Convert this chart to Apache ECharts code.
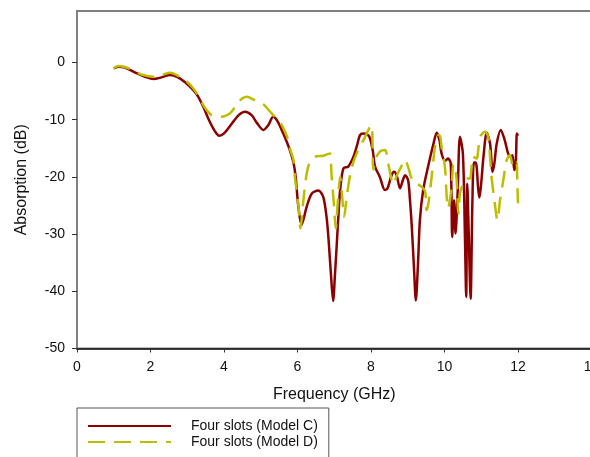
<!DOCTYPE html>
<html>
<head>
<meta charset="utf-8">
<script src="https://cdn.jsdelivr.net/npm/echarts@6/dist/echarts.min.js"></script>
<style>
    html, body { margin: 0; padding: 0; background: #fff; }
    #id-chart { width: 590px; height: 457px; }
</style>
</head>
<body>
<div id="id-chart"></div>
<script>
// x axis ticks, y axis ticks
var xTicks = [0, 2, 4, 6, 8, 10, 12, 14]
var yTicks = [-50, -40, -30, -20, -10, 0]

// Four slots (Model C)
var freqC = [1.0, 1.12, 1.3, 1.6, 1.85, 2.08, 2.3, 2.53, 2.75, 2.95, 3.16, 3.3, 3.44, 3.6, 3.75, 3.87,
    4.0, 4.2, 4.4, 4.57, 4.75, 4.9, 5.07, 5.2, 5.34, 5.45, 5.57, 5.71, 5.8, 5.89, 5.95, 6.02, 6.11,
    6.18, 6.25, 6.39, 6.57, 6.7, 6.79, 6.84, 6.91, 6.97, 7.02, 7.07, 7.12, 7.16, 7.25, 7.38, 7.52,
    7.62, 7.7, 7.79, 7.9, 7.97, 8.05, 8.11, 8.24, 8.38, 8.45, 8.56, 8.63, 8.7, 8.79, 8.87, 8.93,
    9.01, 9.06, 9.11, 9.17, 9.22, 9.28, 9.33, 9.42, 9.56, 9.7, 9.79, 9.86, 9.92, 10.01, 10.1, 10.17,
    10.21, 10.26, 10.3, 10.36, 10.42, 10.5, 10.555, 10.59, 10.62, 10.66, 10.71, 10.76, 10.8, 10.85,
    10.92, 10.95, 11.0, 11.06, 11.15, 11.24, 11.31, 11.36, 11.42, 11.53, 11.64, 11.73, 11.8, 11.85,
    11.9, 11.94, 11.97, 12.0]
var absC = [-1.05, -0.75, -0.9, -1.8, -2.5, -2.9, -2.6, -2.2, -2.6, -3.5, -4.8, -6.0, -7.8, -10.2, -12.0, -12.8,
    -12.4, -10.8, -9.2, -8.6, -9.2, -10.6, -11.8, -11.0, -9.5, -10.2, -11.8, -13.9, -15.5, -17.5, -20, -25.0, -28.4,
    -27.0, -25.2, -22.9, -22.4, -23.5, -27, -30.5, -37, -41.7, -37, -31.6, -26, -22.3, -18.5, -18.2, -16.5,
    -14.5, -12.7, -12.4, -12.6, -13.2, -15.5, -18.2, -20, -22.3, -22, -19.7, -19.1, -19.8, -22, -20.5, -19.7,
    -20.6, -24, -28.7, -36, -41.6, -35, -27.6, -22.3, -18, -14.2, -12.3, -13.5, -15.9, -17.2, -16.8, -17.7,
    -30.5, -24.1, -29.9, -22.3, -13, -15.9, -30, -41, -21.2, -30, -41.3, -24, -17.5, -17.5,
    -22.3, -23.6, -21, -16.5, -12.3, -14.2, -19.1, -17.5, -14.2, -11.8, -13.6, -15.9, -16.5, -16.2,
    -18.8, -17.5, -12.4, -12.8]

// Four slots (Model D)
var freqD = [1.0, 1.12, 1.3, 1.53, 1.8, 2.08, 2.3, 2.53, 2.8, 3.0, 3.16, 3.3, 3.44, 3.55, 3.66, 3.8, 3.94,
    4.05, 4.16, 4.3, 4.44, 4.62, 4.84, 5.07, 5.2, 5.34, 5.45, 5.57, 5.68, 5.75, 5.8, 5.89, 5.93, 6.02,
    6.08, 6.12, 6.16, 6.25, 6.34, 6.52, 6.7, 6.79, 6.88, 6.93, 6.99, 7.04, 7.1, 7.16, 7.21, 7.27, 7.33,
    7.38, 7.47, 7.61, 7.84, 7.95, 8.02, 8.06, 8.11, 8.24, 8.38, 8.47, 8.56, 8.6, 8.7, 8.84, 8.93, 9.01,
    9.15, 9.33, 9.47, 9.51, 9.56, 9.65, 9.74, 9.83, 9.88, 9.92, 10.01, 10.06, 10.1, 10.15, 10.2, 10.24,
    10.3, 10.33, 10.38, 10.42, 10.51, 10.6, 10.69, 10.78, 10.87, 10.97, 11.1, 11.19, 11.28, 11.37,
    11.44, 11.51, 11.6, 11.69, 11.78, 11.87, 11.96, 11.98, 12.0]
var absD = [-1.0, -0.6, -0.8, -1.4, -2.2, -2.5, -2.2, -1.8, -2.5, -3.4, -4.5, -5.8, -7.5, -8.5, -9.2, -9.5, -9.5,
    -9.3, -8.9, -7.8, -6.6, -6.0, -6.6, -7.3, -8.2, -9.2, -10.0, -10.9, -12.4, -13.6, -15.2, -17.0, -20, -24.7,
    -29, -27, -24.1, -19.4, -17.4, -16.4, -16.3, -16.1, -15.9, -20, -24.7, -29, -24, -20, -23, -27, -24,
    -21.7, -18.5, -15.9, -13, -11.5, -11, -18.8, -17.1, -15.6, -15.3, -17.7, -20.5, -21.3, -19.8, -18.0, -17.0, -18.3,
    -20.9, -21.5, -22.5, -25.8, -24.7, -20, -14.8, -12.7, -12.9, -14.8, -18.2, -23.5, -25.5, -24, -21.2, -17.7,
    -19, -20.5, -26.4, -22.9, -21.2, -20.3, -20.3, -16.5, -16.8, -13, -12.1, -13, -20, -24.7,
    -27.6, -24.1, -20.6, -17.1, -16.2, -18.3, -17.5, -21, -24.6]

var pairs = function(xs, ys) {
    var list = []
    for (var i = 0; i < xs.length; i++) {
        list.push([xs[i], ys[i]])
    }
    return list
}

var __initChart__ = function(Dom) {
    var font = 'Liberation Sans, Arial, sans-serif'
    var option = {
        animation: false,
        backgroundColor: '#fff',
        textStyle: { fontFamily: font },
        grid: {
            left: 77,
            top: 11,
            width: 514.5,
            height: 337.5,
            outerBoundsMode: 'none',
            containLabel: false,
            show: true,
            borderColor: '#808080',
            borderWidth: 2
        },
        legend: {
            orient: 'vertical',
            left: 77,
            top: 408,
            height: 60,
            padding: [11, 11, 30, 10],
            itemWidth: 83,
            itemHeight: 14,
            itemGap: 2,
            borderColor: '#555',
            borderWidth: 1,
            itemStyle: { opacity: 0 },
            textStyle: {
                fontSize: 14,
                color: '#111',
                padding: [0, 0, 0, 15]
            },
            data: ['Four slots (Model C)', 'Four slots (Model D)']
        },
        xAxis: {
            type: 'value',
            min: 0,
            max: 14,
            interval: 2,
            name: 'Frequency (GHz)',
            nameLocation: 'middle',
            nameGap: 38,
            nameTextStyle: { fontSize: 16, color: '#111' },
            axisLine: { onZero: false, lineStyle: { color: '#111', width: 1.5 } },
            axisTick: { length: 4, lineStyle: { color: '#333' } },
            axisLabel: { fontSize: 14, color: '#111', margin: 12 },
            splitLine: { show: false }
        },
        yAxis: {
            type: 'value',
            min: -50,
            max: 9,
            interval: 10,
            name: 'Absorption (dB)',
            nameLocation: 'middle',
            nameGap: 47,
            nameTextStyle: { fontSize: 16, color: '#111' },
            axisLine: { onZero: false, lineStyle: { color: '#808080', width: 2 } },
            axisTick: { length: 5, lineStyle: { color: '#333' }, customValues: yTicks },
            axisLabel: {
                fontSize: 14,
                color: '#111',
                margin: 12,
                customValues: yTicks,
                formatter: function(v) {
                    return v > 0 ? '' : String(v)
                }
            },
            splitLine: { show: false }
        },
        series: [{
            name: 'Four slots (Model C)',
            type: 'line',
            data: pairs(freqC, absC),
            symbol: 'none',
            smooth: 0.3,
            lineStyle: { color: '#8b0000', width: 2.5 },
            itemStyle: { color: '#8b0000' }
        }, {
            name: 'Four slots (Model D)',
            type: 'line',
            data: pairs(freqD, absD),
            symbol: 'none',
            smooth: 0.3,
            lineStyle: { color: '#bdbd00', width: 2.5, type: [17, 9] },
            itemStyle: { color: '#bdbd00' }
        }]
    }
    echarts.init(Dom).setOption(option)
}

__initChart__(document.getElementById('id-chart'))
</script>
</body>
</html>
